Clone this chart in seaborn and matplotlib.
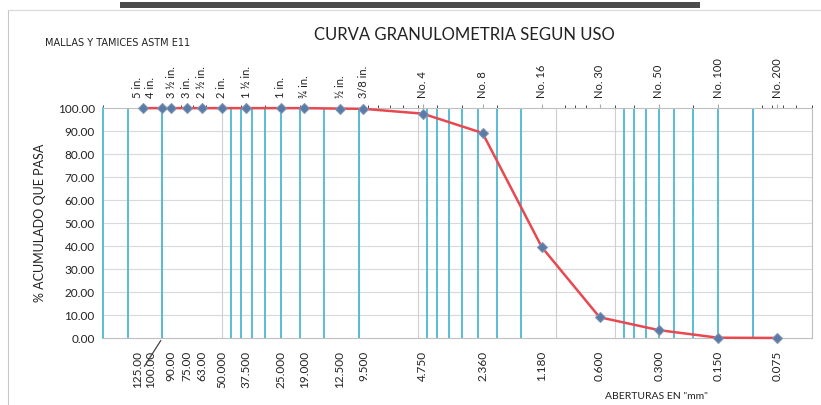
import pandas as pd
import matplotlib
matplotlib.use("Agg")
import matplotlib.pyplot as plt
import matplotlib.transforms as mtransforms
import seaborn as sns
from matplotlib.patches import Rectangle
from matplotlib.lines import Line2D

# sieve data (ASTM E11)
sieve_names = ["5 in.", "4 in.", "3 ½ in.", "3 in.", "2 ½ in.", "2 in.", "1 ½ in.",
               "1 in.", "¾ in.", "½ in.", "3/8 in.", "No. 4", "No. 8", "No. 16",
               "No. 30", "No. 50", "No. 100", "No. 200"]
opening_mm = [125, 100, 90, 75, 63, 50, 37.5, 25, 19, 12.5, 9.5, 4.75, 2.36, 1.18,
              0.6, 0.3, 0.15, 0.075]
opening_labels = ["125.00", "100.00", "90.00", "75.00", "63.00", "50.000", "37.500",
                  "25.000", "19.000", "12.500", "9.500", "4.750", "2.360", "1.180",
                  "0.600", "0.300", "0.150", "0.075"]
passing = [100, 100, 100, 100, 100, 100, 100, 100, 100, 99.8, 99.7, 97.6, 89.2, 39.6,
           9.1, 3.5, 0.2, 0.1]

# full set of mesh openings drawn as cyan reference lines
mesh_lines = [150, 100, 45, 40, 35, 30, 25, 20, 15, 10, 4.5, 4, 3.5, 3, 2.5, 2,
              1.5, 0.45, 0.4, 0.35, 0.3, 0.25, 0.2, 0.15, 0.1]
grid_lines = [100, 50, 10, 5, 1, 0.5, 0.1]

df = pd.DataFrame({"abertura": opening_mm, "pasa": passing})

sns.set_style("white")
plt.rcParams["font.family"] = ["Lato", "DejaVu Sans"]

fig = plt.figure(figsize=(8.21, 4.05), dpi=100)
ax = fig.add_axes([0.1255, 0.165, 0.8635, 0.568])

ax.set_xscale("log")
ax.set_xlim(200, 0.05)
ax.set_ylim(0, 100)

for y in range(10, 100, 10):
    ax.axhline(y, color="#d9d9d9", lw=0.8, zorder=0)
for x in grid_lines:
    ax.axvline(x, color="#cfcfcf", lw=0.8, zorder=0)
for x in mesh_lines:
    ax.axvline(x, color="#4bb8d3", lw=1.3, zorder=1)

sns.lineplot(data=df, x="abertura", y="pasa", ax=ax, color="#e8484f", lw=1.8,
             marker="D", markersize=5, markerfacecolor="#5b7ba6",
             markeredgecolor="#7f95b5", zorder=3, clip_on=False)

ax.set_xticks(opening_mm)
ax.set_xticklabels(opening_labels, rotation=90, fontsize=8.5, color="#222222")
ax.minorticks_off()
ax.tick_params(axis="x", length=3, color="#999999", pad=6)
ax.set_yticks(range(0, 101, 10))
ax.set_yticklabels([f"{v:.2f}" for v in range(0, 101, 10)], fontsize=8.5, color="#222222")
ax.tick_params(axis="y", length=0, pad=6)
ax.set_xlabel("")
ax.set_ylabel("% ACUMULADO QUE PASA", fontsize=9, color="#222222", labelpad=8)

top = ax.secondary_xaxis("top")
top.set_xticks(opening_mm)
top.set_xticklabels(sieve_names, rotation=90, fontsize=8, color="#222222")
top.tick_params(length=3, color="#aaaaaa", pad=4)
top.spines["top"].set_visible(False)

# crowded labels at the coarse end are nudged left, as in the sheet
shifts = {0: -6, 1: -12}
for labels in (ax.get_xticklabels(), top.get_xticklabels()):
    for i, dx in shifts.items():
        off = mtransforms.ScaledTranslation(dx / 100, 0, fig.dpi_scale_trans)
        labels[i].set_transform(labels[i].get_transform() + off)

for s in ax.spines.values():
    s.set_color("#bfbfbf")
    s.set_linewidth(0.8)
ax.spines["left"].set_color("#4bb8d3")
ax.spines["left"].set_linewidth(1.3)

# leader line from the 100.00 label
ax.annotate("", xy=(100, 0), xytext=(-14, -22), textcoords="offset points",
            arrowprops=dict(arrowstyle="-", color="#444444", lw=0.9),
            annotation_clip=False)

fig.text(0.566, 0.913, "CURVA GRANULOMETRIA SEGUN USO", ha="center", va="center",
         fontsize=12, color="#222222")
fig.text(0.055, 0.893, "MALLAS Y TAMICES ASTM E11", ha="left", va="center",
         fontsize=7, color="#222222", family=["Liberation Sans Narrow", "DejaVu Sans"])
fig.text(0.80, 0.02, 'ABERTURAS EN "mm"', ha="center", va="center",
         fontsize=7.5, color="#222222")

# scanned page framing
fig.patches.append(Rectangle((0.146, 0.98), 0.707, 0.014, transform=fig.transFigure,
                             facecolor="#4a4a4a", edgecolor="none"))
fig.lines.append(Line2D([0.01, 0.01], [0.0, 0.975], transform=fig.transFigure,
                        color="#c8c8c8", lw=0.8))
fig.lines.append(Line2D([0.01, 1.0], [0.975, 0.975], transform=fig.transFigure,
                        color="#d8d8d8", lw=0.8))

fig.savefig("out.png", dpi=100)
